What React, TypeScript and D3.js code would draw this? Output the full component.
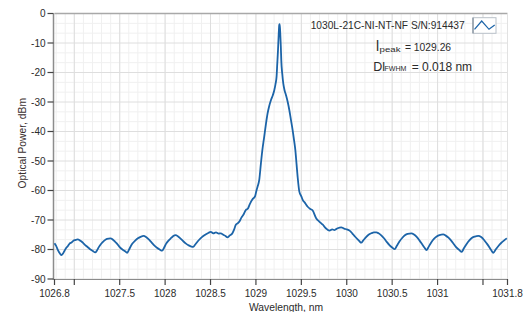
import React from "react";
import * as d3 from "d3";

const wavelengths = [
  1026.782, 1026.8, 1026.82, 1026.84, 1026.856, 1026.87, 1026.89, 1026.91, 1026.93, 1026.95, 1026.97, 1026.99,
  1027.01, 1027.039, 1027.06, 1027.08, 1027.1, 1027.12, 1027.14, 1027.17, 1027.2, 1027.231, 1027.25, 1027.27,
  1027.29, 1027.31, 1027.33, 1027.36, 1027.397, 1027.42, 1027.44, 1027.47, 1027.5, 1027.53, 1027.56, 1027.581,
  1027.6, 1027.62, 1027.64, 1027.67, 1027.7, 1027.73, 1027.765, 1027.79, 1027.82, 1027.85, 1027.88, 1027.91,
  1027.94, 1027.967, 1027.99, 1028.01, 1028.04, 1028.07, 1028.09, 1028.116, 1028.14, 1028.17, 1028.2, 1028.23,
  1028.26, 1028.29, 1028.31, 1028.33, 1028.36, 1028.39, 1028.42, 1028.45, 1028.48, 1028.502, 1028.53, 1028.56,
  1028.59, 1028.613, 1028.64, 1028.665, 1028.686, 1028.71, 1028.741, 1028.76, 1028.779, 1028.8, 1028.82, 1028.84,
  1028.86, 1028.889, 1028.91, 1028.93, 1028.962, 1028.99, 1029.006, 1029.02, 1029.036, 1029.055, 1029.07, 1029.091,
  1029.11, 1029.128, 1029.145, 1029.165, 1029.185, 1029.202, 1029.215, 1029.227, 1029.235, 1029.243, 1029.25,
  1029.257, 1029.262, 1029.268, 1029.274, 1029.279, 1029.29, 1029.301, 1029.315, 1029.331, 1029.35, 1029.368,
  1029.385, 1029.404, 1029.42, 1029.434, 1029.447, 1029.459, 1029.478, 1029.5, 1029.515, 1029.54, 1029.57, 1029.6,
  1029.625, 1029.663, 1029.7, 1029.736, 1029.77, 1029.81, 1029.84, 1029.865, 1029.9, 1029.939, 1029.97, 1030.0,
  1030.031, 1030.06, 1030.09, 1030.12, 1030.14, 1030.16, 1030.18, 1030.21, 1030.24, 1030.27, 1030.3, 1030.326,
  1030.35, 1030.38, 1030.41, 1030.44, 1030.47, 1030.5, 1030.528, 1030.55, 1030.58, 1030.61, 1030.64, 1030.67,
  1030.713, 1030.74, 1030.77, 1030.8, 1030.83, 1030.855, 1030.878, 1030.9, 1030.93, 1030.96, 1030.99, 1031.02,
  1031.062, 1031.09, 1031.12, 1031.15, 1031.18, 1031.21, 1031.24, 1031.265, 1031.29, 1031.32, 1031.35, 1031.38,
  1031.41, 1031.449, 1031.48, 1031.51, 1031.54, 1031.57, 1031.59, 1031.614, 1031.64, 1031.67, 1031.7, 1031.73,
  1031.762,
];

const powers = [
  -77.9, -78.8, -80.2, -81.3, -81.9, -81.6, -80.6, -79.5, -78.8, -77.9, -77.6, -77.0,
  -76.8, -76.6, -76.9, -77.3, -77.9, -78.5, -79.0, -79.8, -80.4, -81.0, -80.3, -79.2,
  -78.3, -77.6, -77.0, -76.4, -76.2, -76.5, -77.1, -78.0, -79.2, -80.0, -80.6, -81.1,
  -80.2, -79.0, -78.0, -77.0, -76.2, -75.7, -75.4, -75.8, -76.6, -77.6, -78.6, -79.4,
  -80.0, -80.4, -79.3, -78.1, -76.9, -76.0, -75.4, -75.1, -75.5, -76.3, -77.2, -78.0,
  -78.6, -79.0, -79.1, -78.4, -77.2, -76.2, -75.4, -74.8, -74.3, -74.0, -74.5, -74.2,
  -74.6, -74.5, -75.0, -75.4, -75.9, -75.3, -74.5, -73.2, -71.6, -71.1, -70.4, -69.2,
  -68.3, -66.6, -66.2, -64.8, -63.0, -62.0, -60.0, -58.5, -56.5, -50.8, -46.5, -41.8,
  -37.5, -33.9, -31.5, -29.4, -27.8, -26.0, -24.0, -21.5, -17.0, -12.4, -7.5,
  -3.8, -3.6, -6.8, -11.0, -15.8, -20.5, -23.7, -26.0, -27.7, -30.0, -32.8,
  -36.0, -39.5, -43.0, -46.3, -51.0, -55.3, -60.4, -62.0, -63.2, -64.2, -65.5, -66.3,
  -66.8, -69.4, -70.6, -71.6, -72.8, -73.6, -73.2, -73.4, -72.8, -72.5, -72.9, -73.2,
  -73.6, -74.5, -75.6, -76.6, -77.2, -77.7, -77.0, -75.9, -75.0, -74.5, -74.2, -74.2,
  -74.5, -75.2, -76.2, -77.4, -78.5, -79.3, -79.9, -78.8, -77.3, -76.1, -75.2, -74.7,
  -74.5, -74.9, -75.7, -76.9, -78.2, -79.3, -80.2, -79.2, -77.6, -76.4, -75.6, -75.1,
  -74.9, -75.3, -76.0, -77.0, -78.2, -79.4, -80.2, -80.8, -79.6, -78.1, -76.9, -76.0,
  -75.6, -75.4, -75.8, -76.7, -77.9, -79.2, -80.2, -81.1, -80.0, -78.8, -77.8, -77.0,
  -76.2,
];

const xDomain = [1026.782, 1031.77];
const yDomain = [-90, 0];
const xLabeledTicks = [1027.5, 1028, 1028.5, 1029, 1029.5, 1030, 1030.5, 1031];
const xUnlabeledTicks = [1027, 1031.5];
const xEndLabels = ["1026.8", "1031.8"];
const yTicks = [0, -10, -20, -30, -40, -50, -60, -70, -80, -90];
const legendLabel = "1030L-21C-NI-NT-NF S/N:914437";
const peakValue = "1029.26";
const fwhmValue = "0.018 nm";
const xTitle = "Wavelength, nm";
const yTitle = "Optical Power, dBm";

const W = 531;
const H = 312;
const left = 54.5;
const right = 507.5;
const top = 13.5;
const bottom = 279;

const FONT = "'Liberation Sans', Arial, sans-serif";
const TEXT = "#2b2b2b";

export default function App() {
  const x = d3.scaleLinear().domain(xDomain).range([left, right]);
  const y = d3.scaleLinear().domain(yDomain).range([bottom, top]);

  const minorX: number[] = [];
  for (let v = 1026.8; v < xDomain[1]; v += 0.1) minorX.push(+v.toFixed(2));
  const minorY: number[] = [];
  for (let k = 0; k < 9; k++) {
    minorY.push(-10 * k - 10 / 3, -10 * k - 20 / 3);
  }

  const pts = wavelengths.map((w, i) => [w, powers[i]] as [number, number]);
  const line = d3
    .line<[number, number]>()
    .x((d) => x(d[0]))
    .y((d) => y(d[1]))
    .curve(d3.curveMonotoneX);

  return (
    <svg width={W} height={H} style={{ position: "absolute", left: 0, top: 0, background: "#fff" }}>
      <rect x={0} y={0} width={W} height={H} fill="#fff" />
      {/* minor grid */}
      {minorX.map((v, i) => (
        <line key={"mx" + i} x1={x(v)} x2={x(v)} y1={top} y2={bottom} stroke="#f0f0f0" strokeWidth={1} />
      ))}
      {minorY.map((v, i) => (
        <line key={"my" + i} x1={left} x2={right} y1={y(v)} y2={y(v)} stroke="#f0f0f0" strokeWidth={1} />
      ))}
      {/* major grid */}
      {[...xUnlabeledTicks, ...xLabeledTicks].map((v, i) => (
        <line key={"gx" + i} x1={x(v)} x2={x(v)} y1={top} y2={bottom} stroke="#dedede" strokeWidth={1} />
      ))}
      {yTicks.map((v, i) => (
        <line key={"gy" + i} x1={left} x2={right} y1={y(v)} y2={y(v)} stroke="#dedede" strokeWidth={1} />
      ))}
      {/* frame */}
      <line x1={left} x2={right} y1={top} y2={top} stroke="#a8a8a8" strokeWidth={1.5} />
      <line x1={right} x2={right} y1={top} y2={bottom} stroke="#e2e2e2" strokeWidth={1} />
      <line x1={left - 1} x2={left - 1} y1={top} y2={bottom + 1} stroke="#8c8c8c" strokeWidth={1.5} />
      <line x1={left - 1} x2={right} y1={bottom + 0.5} y2={bottom + 0.5} stroke="#8c8c8c" strokeWidth={1.2} />

      {/* data */}
      <path d={line(pts) || ""} fill="none" stroke="#1c64a8" strokeWidth={1.8} strokeLinejoin="round" />

      {/* y axis */}
      {yTicks.map((v, i) => (
        <g key={"yt" + i}>
          <line x1={left - 7} x2={left - 1} y1={y(v)} y2={y(v)} stroke="#444" strokeWidth={1.2} />
          <text x={left - 9} y={y(v) + 3.6} textAnchor="end" fontFamily={FONT} fontSize={10} fill={TEXT}>
            {v}
          </text>
        </g>
      ))}
      <text
        transform={`translate(${25.5},${(top + bottom) / 2 - 3}) rotate(-90)`}
        textAnchor="middle"
        fontFamily={FONT}
        fontSize={10.3}
        fill="#3a3030"
      >
        {yTitle}
      </text>

      {/* x axis */}
      {[xDomain[0], ...xUnlabeledTicks, ...xLabeledTicks, xDomain[1]].map((v, i) => (
        <line key={"xt" + i} x1={x(v)} x2={x(v)} y1={bottom} y2={bottom + 6} stroke="#444" strokeWidth={1.2} />
      ))}
      {xLabeledTicks.map((v, i) => (
        <text key={"xl" + i} x={x(v)} y={296.5} textAnchor="middle" fontFamily={FONT} fontSize={10} fill={TEXT}>
          {String(v)}
        </text>
      ))}
      <text x={x(xDomain[0])} y={296.5} textAnchor="middle" fontFamily={FONT} fontSize={10} fill={TEXT}>
        {xEndLabels[0]}
      </text>
      <text x={x(xDomain[1])} y={296.5} textAnchor="middle" fontFamily={FONT} fontSize={10} fill={TEXT}>
        {xEndLabels[1]}
      </text>
      <text x={(left + right) / 2 + 5} y={310.5} textAnchor="middle" fontFamily={FONT} fontSize={10.3} fill={TEXT}>
        {xTitle}
      </text>

      {/* legend */}
      <text x={310.7} y={28.6} fontFamily={FONT} fontSize={10.2} fill={TEXT}>
        {legendLabel}
      </text>
      <rect x={473} y={17.7} width={23} height={15.6} fill="#fff" stroke="#b8c0c8" strokeWidth={1} />
      <line x1={473} x2={473} y1={17.7} y2={33.3} stroke="#6a7a8a" strokeWidth={1} />
      <polyline points="474.5,29.3 481.7,21 489,29.3 494.7,25" fill="none" stroke="#1c64a8" strokeWidth={1.2} />

      {/* annotations */}
      <text x={376} y={50.7} fontFamily={FONT} fontSize={14} fill={TEXT}>
        l
      </text>
      <text x={379.5} y={51.5} fontFamily={FONT} fontSize={7.5} fill={TEXT} textLength={21} lengthAdjust="spacingAndGlyphs">
        peak
      </text>
      <text x={405} y={50.5} fontFamily={FONT} fontSize={10.3} fill={TEXT}>
        {"= " + peakValue}
      </text>
      <text x={373.3} y={70.7} fontFamily={FONT} fontSize={12.5} fill={TEXT}>
        Dl
      </text>
      <text x={384.5} y={71.3} fontFamily={FONT} fontSize={7.5} fill={TEXT} textLength={22} lengthAdjust="spacingAndGlyphs">
        FWHM
      </text>
      <text x={411.7} y={70.7} fontFamily={FONT} fontSize={12} fill={TEXT}>
        {"= " + fwhmValue}
      </text>
    </svg>
  );
}
